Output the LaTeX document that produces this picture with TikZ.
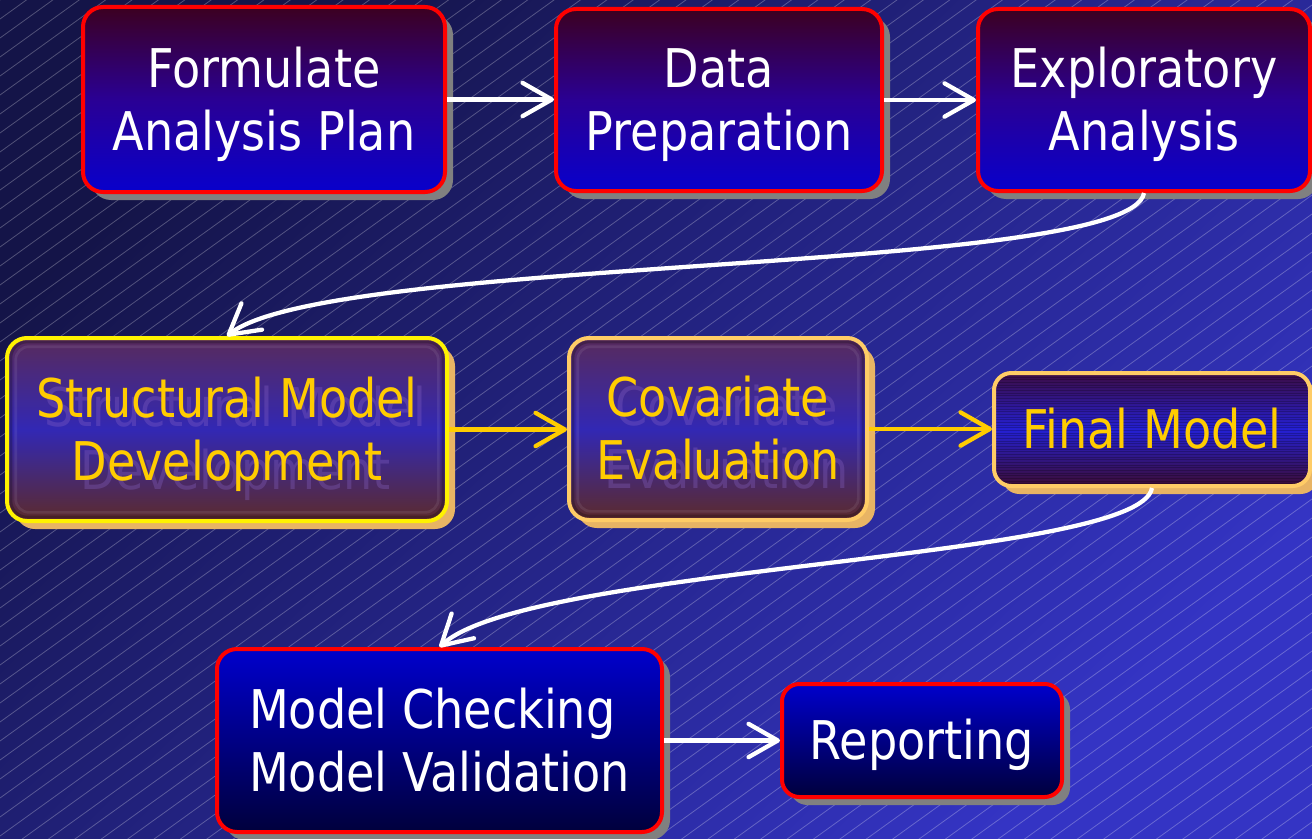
\documentclass[tikz,border=0pt]{standalone}
\usepackage{fontspec}
\setmainfont[FakeStretch=0.865]{DejaVu Sans}
\usetikzlibrary{arrows.meta,shadows}

\definecolor{bgdark}{HTML}{141448}
\definecolor{bglight}{HTML}{3434C4}
\definecolor{plumtop}{HTML}{3C0020}
\definecolor{plummid}{HTML}{2A0094}
\definecolor{royal}{HTML}{0800CC}
\definecolor{navytop}{HTML}{0000CC}
\definecolor{navybot}{HTML}{00003C}
\definecolor{gold}{HTML}{FFCC00}
\definecolor{sand}{HTML}{FFCC66}
\definecolor{sandshadow}{HTML}{E8B464}
\definecolor{shadowgrey}{HTML}{808080}
\definecolor{midtop}{HTML}{582A5C}
\definecolor{midmid}{HTML}{3228B4}
\definecolor{midbot}{HTML}{5C2A2C}
\definecolor{finaltop}{HTML}{3C0C44}
\definecolor{finalmid}{HTML}{2420D4}
\definecolor{finalbot}{HTML}{3C0C34}
\definecolor{ghostink}{HTML}{8A66C8}

% one text line whose box is exactly the cap height, with no depth
\newcommand\capline[1]{\rule{0pt}{29.2pt}\smash{#1}}

\tikzset{
  boxfont/.style={font=\fontsize{40pt}{47.25pt}\selectfont},
  boxbase/.style={rectangle, rounded corners=15pt, line width=3pt,
    inner sep=0pt, align=center, boxfont},
  redbox/.style={boxbase, draw=red, text=white,
    drop shadow={shadow xshift=6pt, shadow yshift=-6pt, fill=shadowgrey, opacity=1}},
  upperfill/.style={top color=plumtop, bottom color=royal, middle color=plummid},
  lowerfill/.style={top color=navytop, bottom color=navybot},
  goldbox/.style={boxbase, text=gold,
    drop shadow={shadow xshift=6pt, shadow yshift=-6pt, fill=sandshadow, opacity=1}},
  midfill/.style={top color=midtop, bottom color=midbot, middle color=midmid},
  finalfill/.style={top color=finaltop, bottom color=finalbot, middle color=finalmid},
  % bevel frame and faint offset copy of the label inside a box
  ghost/.style={path picture={
    \draw[black, opacity=0.22, line width=2pt, rounded corners=12pt]
      ([shift={(3pt,-3pt)}]path picture bounding box.north west) rectangle
      ([shift={(-3pt,3pt)}]path picture bounding box.south east);
    \draw[white, opacity=0.08, line width=2pt, rounded corners=10pt]
      ([shift={(6.5pt,-6.5pt)}]path picture bounding box.north west) rectangle
      ([shift={(-6.5pt,6.5pt)}]path picture bounding box.south east);
    \node[boxfont, align=center, inner sep=0pt, text=ghostink, text opacity=0.32]
      at ([shift={(6.5pt,-6.5pt)}]path picture bounding box.center) {#1};}},
  % horizontal scan lines
  stripes/.style={path picture={
    \foreach \k in {1,3,...,89}
      \draw[black, opacity=0.22, line width=0.7pt]
        ([yshift=-\k pt]path picture bounding box.north west) --
        ([yshift=-\k pt]path picture bounding box.north east);}},
  hatch/.style={white, opacity=0.26, line width=0.6pt},
  flow/.style={-{Straight Barb[length=22pt, width=25pt, round]}, line width=3.2pt},
  whiteflow/.style={flow, draw=white},
  goldflow/.style={flow, draw=gold},
}

\begin{document}
\begin{tikzpicture}[x=0.75pt, y=-0.75pt]
\useasboundingbox (0,0) rectangle (1312,838);

% backdrop with diagonal pinstripes
\shade[top color=bgdark, bottom color=bglight, shading angle=45] (0,0) rectangle (1312,838);
\begin{scope}
  \clip (0,0) rectangle (1312,838);
  \foreach \c in {0,19,...,1840}
    \draw[hatch] (0,\c) -- (1312,\c-945);
\end{scope}

% first row
\node[redbox, upperfill, minimum width=271.5pt, minimum height=138.75pt] (A) at (264,99.5)
  {\capline{Formulate}\\\capline{Analysis Plan}};
\node[redbox, upperfill, minimum width=244.5pt, minimum height=136.5pt] (B) at (719,100)
  {\capline{Data}\\\capline{Preparation}};
\node[redbox, upperfill, minimum width=249pt, minimum height=136.5pt] (C) at (1144,100)
  {\capline{Exploratory}\\\capline{Analysis}};

% second row
\node[goldbox, midfill, draw=yellow, minimum width=330pt, minimum height=137.25pt,
  ghost={\capline{Structural Model}\\\capline{Development}}] (D) at (227,429.5)
  {\capline{Structural Model}\\\capline{Development}};
\node[goldbox, midfill, draw=sand, minimum width=223.5pt, minimum height=136.5pt,
  ghost={\capline{Covariate}\\\capline{Evaluation}}] (E) at (718,429)
  {\capline{Covariate}\\\capline{Evaluation}};
\node[goldbox, finalfill, stripes, draw=sand, rounded corners=13pt,
  minimum width=237pt, minimum height=84.75pt] (F) at (1152,429.5)
  {\capline{Final Model}};

% third row
\node[redbox, lowerfill, align=left, minimum width=333.75pt, minimum height=137.25pt] (G) at (439.5,740.5)
  {\capline{Model Checking}\\\capline{Model Validation}};
\node[redbox, lowerfill, rounded corners=13pt, minimum width=210pt, minimum height=84.75pt] (H) at (922,740.5)
  {\capline{Reporting}};

% connectors
\draw[whiteflow] (A.east) -- (A.east -| B.west);
\draw[whiteflow] (B.east) -- (B.east -| C.west);
\draw[whiteflow] (C.south) .. controls (1130,275) and (330,255) .. (D.north);
\draw[goldflow] (D.east) -- (D.east -| E.west);
\draw[goldflow] (E.east) -- (E.east -| F.west);
\draw[whiteflow] (F.south) .. controls (1140,560) and (530,565) .. (G.north);
\draw[whiteflow] (G.east) -- (G.east -| H.west);
\end{tikzpicture}
\end{document}
